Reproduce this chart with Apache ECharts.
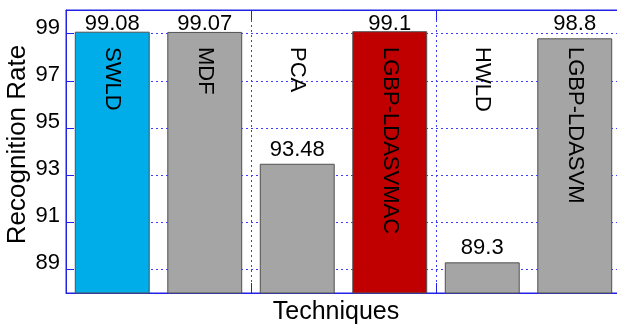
<!DOCTYPE html>
<html>
<head>
<meta charset="utf-8">
<script src="https://cdn.jsdelivr.net/npm/echarts@6/dist/echarts.min.js"></script>
<style>
html,body{margin:0;padding:0;background:#fff;}
#chart{width:617px;height:327px;}
</style>
</head>
<body>
<div id="chart"></div>
<script>
const categories = ['SWLD', 'MDF', 'PCA', 'LGBP-LDASVMAC', 'HWLD', 'LGBP-LDASVM'];
const rates = [99.08, 99.07, 93.48, 99.1, 89.3, 98.8];
const barColors = ['#00ADE9', '#A5A5A5', '#A5A5A5', '#C00000', '#A5A5A5', '#A5A5A5'];
const yTicks = [89, 91, 93, 95, 97, 99];
const yMin = 88;
const yMax = 100;

const FONT = "'Liberation Sans', Arial, sans-serif";
const BLUE = '#2222e6';
const GRIDBLUE = '#3c3cff';

const chart = echarts.init(document.getElementById('chart'), null, {renderer: 'canvas'});

const mainData = rates.map((v, i) => ({
  value: v,
  itemStyle: {color: barColors[i]},
  label: v >= 99 ? {offset: [0, 6.5]} : undefined
}));

const gridLineStyle = {color: GRIDBLUE, type: [2, 3], width: 1, opacity: 1};

const option = {
  backgroundColor: '#fff',
  animation: false,
  textStyle: {fontFamily: FONT},
  grid: {left: 66, top: 10, width: 555, bottom: 34, show: true, borderColor: BLUE, borderWidth: 1, containLabel: false, outerBoundsMode: 'none'},
  xAxis: [{
    type: 'category',
    data: categories,
    position: 'bottom',
    name: 'Techniques',
    nameLocation: 'middle',
    nameGap: 7,
    nameMoveOverlap: false,
    nameTextStyle: {fontSize: 25, color: '#000', fontFamily: FONT, verticalAlign: 'top', padding: [0, 15, 0, 0]},
    axisLine: {show: true, lineStyle: {color: BLUE, width: 1}},
    axisTick: {show: true, inside: true, length: 10, lineStyle: {color: BLUE}},
    axisLabel: {show: false},
    splitLine: {show: true, lineStyle: gridLineStyle}
  }, {
    type: 'category',
    data: categories,
    position: 'top',
    axisLine: {show: true, lineStyle: {color: BLUE, width: 1}},
    axisTick: {show: true, inside: true, length: 10, lineStyle: {color: BLUE}},
    axisLabel: {show: false},
    splitLine: {show: false}
  }],
  yAxis: {
    type: 'value',
    min: yMin,
    max: yMax,
    interval: 1,
    name: 'Recognition Rate',
    nameLocation: 'middle',
    nameRotate: 90,
    nameGap: 48,
    nameMoveOverlap: false,
    nameTextStyle: {fontSize: 26, color: '#000', fontFamily: FONT, verticalAlign: 'middle', padding: [0, 0, 0, 14]},
    axisLine: {show: true, lineStyle: {color: BLUE, width: 1}},
    axisTick: {show: true, inside: true, length: 8, lineStyle: {color: BLUE}, customValues: yTicks},
    axisLabel: {show: true, customValues: yTicks, fontSize: 22, color: '#000', fontFamily: FONT, margin: 6, verticalAlign: 'bottom', lineHeight: 12},
    splitLine: {show: true, lineStyle: gridLineStyle}
  },
  series: [{
    type: 'bar',
    data: mainData,
    barWidth: '81%',
    barGap: '-100%',
    itemStyle: {borderColor: '#505050', borderWidth: 1},
    label: {show: true, position: 'top', distance: 3, fontSize: 22, color: '#000', fontFamily: FONT},
    z: 2
  }, {
    type: 'bar',
    data: categories.map(() => yMax),
    barWidth: '81%',
    barGap: '-100%',
    silent: true,
    itemStyle: {color: 'rgba(0,0,0,0)'},
    label: {
      show: true, position: 'insideTop', distance: 34, rotate: -90,
      align: 'left', verticalAlign: 'middle', offset: [3, 0],
      formatter: '{b}', fontSize: 22, color: '#000', fontFamily: FONT
    },
    z: 3
  }]
};
chart.setOption(option);
</script>
</body>
</html>
